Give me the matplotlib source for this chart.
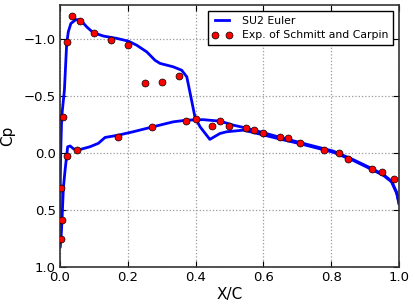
import matplotlib
matplotlib.use("Agg")
import matplotlib.pyplot as plt

# SU2 Euler - upper surface
upper_x = [0.0, 0.0005, 0.001, 0.002, 0.005, 0.013, 0.0197, 0.0245, 0.032, 0.047, 0.061,
           0.079, 0.098, 0.128, 0.167, 0.202, 0.226, 0.256, 0.280, 0.295, 0.334, 0.359,
           0.374, 0.388, 0.398, 0.413, 0.442, 0.472, 0.492, 0.541, 0.59, 0.65, 0.708,
           0.806, 0.865, 0.905, 0.954, 0.978, 0.993, 1.0]
upper_cp = [0.82, 0.5, 0.2, 0.0, -0.32, -0.555, -0.965, -1.067, -1.14, -1.175, -1.17,
            -1.11, -1.06, -1.03, -1.01, -0.985, -0.95, -0.891, -0.818, -0.79, -0.76, -0.73,
            -0.672, -0.468, -0.32, -0.234, -0.123, -0.175, -0.19, -0.204, -0.169, -0.125, -0.085,
            -0.01, 0.062, 0.12, 0.193, 0.25, 0.35, 0.44]

# SU2 Euler - lower surface
lower_x = [0.0, 0.003, 0.006, 0.010, 0.015, 0.0226, 0.030, 0.040, 0.049, 0.060, 0.088,
           0.113, 0.133, 0.172, 0.216, 0.275, 0.334, 0.374, 0.423, 0.472, 0.511, 0.541,
           0.59, 0.65, 0.708, 0.806, 0.865, 0.905, 0.954, 0.978, 0.993, 1.0]
lower_cp = [0.82, 0.75, 0.58, 0.30, 0.146, -0.058, -0.065, -0.04, -0.029, -0.035, -0.058,
            -0.088, -0.14, -0.16, -0.19, -0.234, -0.277, -0.292, -0.296, -0.283, -0.248, -0.228,
            -0.19, -0.14, -0.095, -0.02, 0.055, 0.112, 0.185, 0.245, 0.34, 0.44]

# Experimental data (Schmitt and Carpin)
exp_x = [0.003, 0.006, 0.004, 0.008, 0.020, 0.0197, 0.0345, 0.060, 0.100, 0.150, 0.200,
         0.250, 0.300, 0.350, 0.050, 0.172, 0.272, 0.372, 0.400, 0.449, 0.472, 0.499,
         0.550, 0.572, 0.600, 0.649, 0.672, 0.708, 0.780, 0.822, 0.850, 0.919, 0.949, 0.984]
exp_cp = [0.754, 0.582, 0.307, -0.321, 0.024, -0.974, -1.207, -1.158, -1.055, -0.994, -0.953,
          -0.617, -0.628, -0.675, -0.026, -0.143, -0.228, -0.281, -0.304, -0.242, -0.283, -0.242,
          -0.222, -0.204, -0.178, -0.140, -0.131, -0.093, -0.029, -0.003, 0.046, 0.135, 0.164, 0.228]

xticks = [0.0, 0.2, 0.4, 0.6, 0.8, 1.0]
yticks = [-1.0, -0.5, 0.0, 0.5, 1.0]

fig = plt.figure(figsize=(4.15, 3.08), dpi=100, facecolor="white")
ax = fig.add_axes([60/415, 1-267.3/308, (399-60)/415, (267.3-5.3)/308])

ax.plot(upper_x, upper_cp, color="blue", lw=2, label="SU2 Euler", zorder=2)
ax.plot(lower_x, lower_cp, color="blue", lw=2, zorder=2)
ax.plot(exp_x, exp_cp, "o", color="red", mec="black", mew=0.5, ms=5,
        label="Exp. of Schmitt and Carpin", zorder=3)

ax.set_xlim(0, 1)
ax.set_ylim(1.0, -1.3)
ax.set_xticks(xticks)
ax.set_yticks(yticks)
ax.set_xticklabels([f"{t:.1f}" for t in xticks])
ax.set_yticklabels([f"{t:.1f}".replace("-", "\u2212") for t in yticks])
ax.grid(True, linestyle=":", color="#999999", lw=0.9)
ax.tick_params(direction="in", length=4, labelsize=9.5, pad=3, top=True, right=True)
for s in ax.spines.values():
    s.set_color("#333333")
    s.set_linewidth(1.2)

ax.set_xlabel("X/C", fontsize=11, labelpad=2)
ax.set_ylabel("Cp", fontsize=11, labelpad=6)

leg = ax.legend(loc="upper right", fontsize=7.8, numpoints=2, fancybox=False,
                framealpha=1, edgecolor="black", borderaxespad=0.55,
                handlelength=1.9, handletextpad=0.9, labelspacing=0.45, borderpad=0.4)
leg.get_frame().set_linewidth(1.0)

fig.savefig("out.png", dpi=100, facecolor="white")
